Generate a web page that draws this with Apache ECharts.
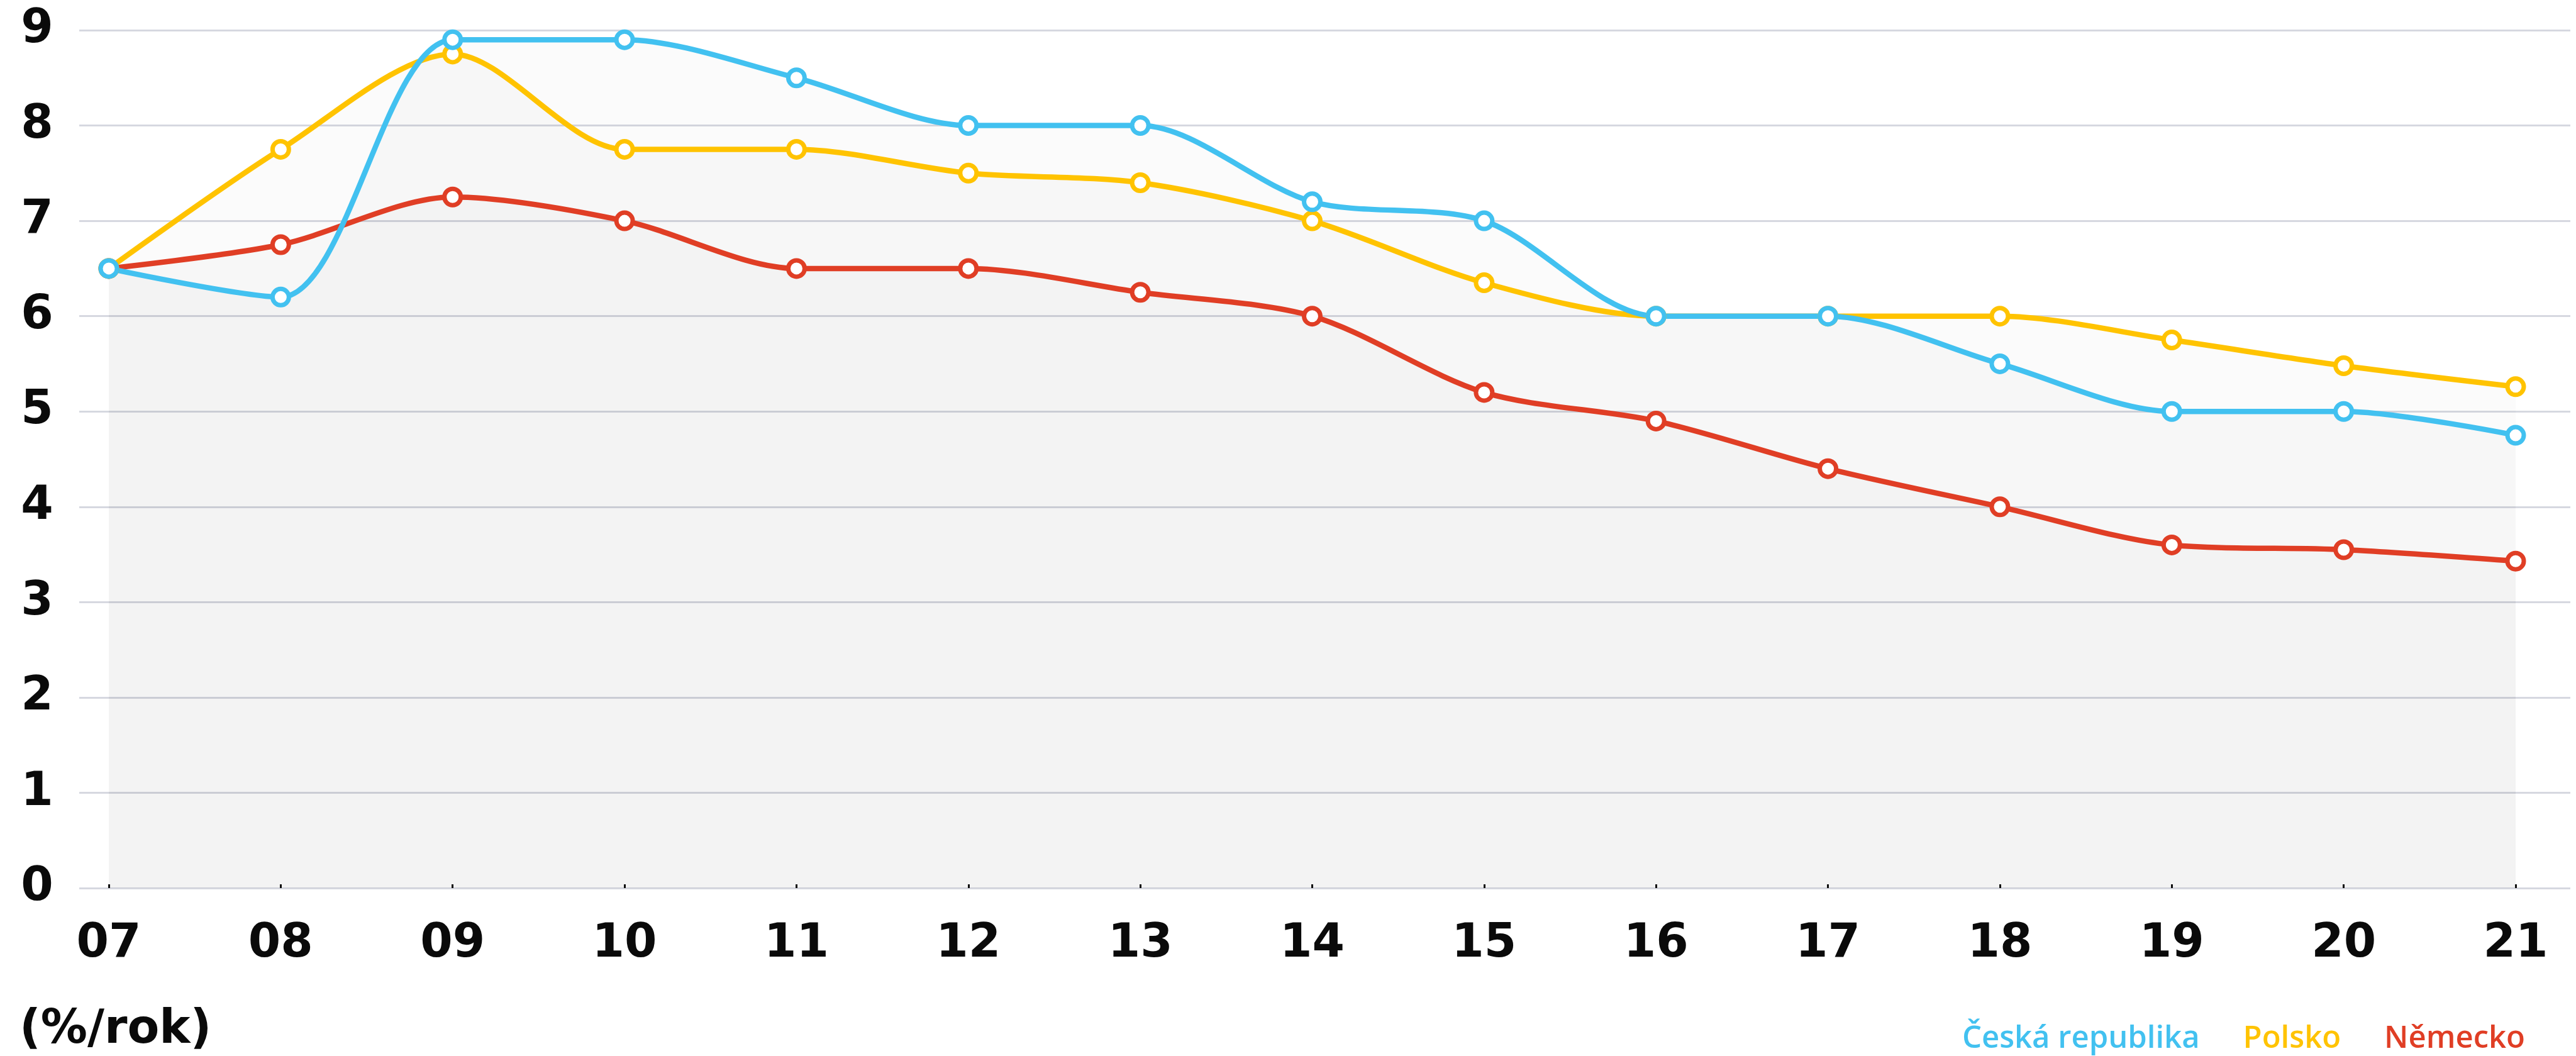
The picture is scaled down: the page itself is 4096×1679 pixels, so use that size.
<!DOCTYPE html>
<html>
<head>
<meta charset="utf-8">
<script src="https://cdn.jsdelivr.net/npm/echarts@6/dist/echarts.min.js"></script>
<style>
html,body{margin:0;padding:0;background:#fff;}
#c{width:4096px;height:1679px;}
</style>
</head>
<body>
<div id="c"></div>
<script>
const categories = ['07','08','09','10','11','12','13','14','15','16','17','18','19','20','21'];
const seriesNames = ['Česká republika','Polsko','Německo'];
const ceskaRepublika = [6.5,6.2,8.9,8.9,8.5,8.0,8.0,7.2,7.0,6.0,6.0,5.5,5.0,5.0,4.75];
const polsko = [6.5,7.75,8.75,7.75,7.75,7.5,7.4,7.0,6.35,6.0,6.0,6.0,5.75,5.48,5.26];
const nemecko = [6.5,6.75,7.25,7.0,6.5,6.5,6.25,6.0,5.2,4.9,4.4,4.0,3.6,3.55,3.43];
const yTicks = {min:0, max:9, interval:1};
const unitLabel = '(%/rok)';
const colors = {'Česká republika':'#42c1f0','Polsko':'#ffc300','Německo':'#e03e25'};

const chart = echarts.init(document.getElementById('c'), null, {renderer:'canvas'});

function lineSeries(name, data){
  const c = colors[name];
  return {
    name: name,
    type: 'line',
    xAxisIndex: 1,
    yAxisIndex: 1,
    data: data,
    smooth: 0.3,
    symbol: 'circle',
    symbolSize: 26,
    showAllSymbol: true,
    lineStyle: {color: c, width: 8.5},
    itemStyle: {color: '#ffffff', borderColor: c, borderWidth: 7},
    areaStyle: {color: 'rgba(0,0,0,0.02)', origin: 'start'},
    emphasis: {disabled: true},
    animation: false
  };
}

const labelFont = {fontFamily:'DejaVu Sans', fontWeight:'bold', fontSize:74, color:'#0a0a0a'};

chart.setOption({
  animation: false,
  backgroundColor: '#ffffff',
  grid: [
    {left: 126, right: 9, top: 48, bottom: 267, containLabel: false},
    {left: 173, right: 96, top: 48, bottom: 267, containLabel: false}
  ],
  xAxis: [
    {gridIndex: 0, type: 'value', min: 0, max: 1, show: false},
    {gridIndex: 1, type: 'category', data: categories, boundaryGap: false,
     axisLine: {show: false},
     axisTick: {show: true, inside: true, length: 6, alignWithLabel: true, lineStyle: {color: '#111', width: 3}},
     axisLabel: Object.assign({margin: 90, verticalAlign: 'middle', interval: 0}, labelFont),
     splitLine: {show: false}}
  ],
  yAxis: [
    {gridIndex: 0, type: 'value', min: yTicks.min, max: yTicks.max, interval: yTicks.interval,
     axisLine: {show: false}, axisTick: {show: false},
     axisLabel: Object.assign({margin: 67, align: 'center', verticalAlign: 'middle'}, labelFont),
     splitLine: {show: true, lineStyle: {color: '#d6d8e0', width: 3}}},
    {gridIndex: 1, type: 'value', min: yTicks.min, max: yTicks.max, interval: yTicks.interval, show: false,
     splitLine: {show: false}}
  ],
  legend: {
    right: 81, top: 1622, padding: 0,
    icon: 'none', itemWidth: 0, itemHeight: 10, itemGap: 64,
    selectedMode: false,
    data: seriesNames.map(n => ({name: n, textStyle: {color: colors[n]}})),
    textStyle: {fontFamily: 'Open Sans', fontWeight: 600, fontSize: 49, lineHeight: 60}
  },
  graphic: [
    {type: 'text', left: 31, top: 1602,
     style: {text: unitLabel, fontFamily: 'DejaVu Sans', fontWeight: 'bold', fontSize: 74, fill: '#0a0a0a'}}
  ],
  series: [
    lineSeries('Německo', nemecko),
    lineSeries('Polsko', polsko),
    lineSeries('Česká republika', ceskaRepublika)
  ]
});
</script>
</body>
</html>
